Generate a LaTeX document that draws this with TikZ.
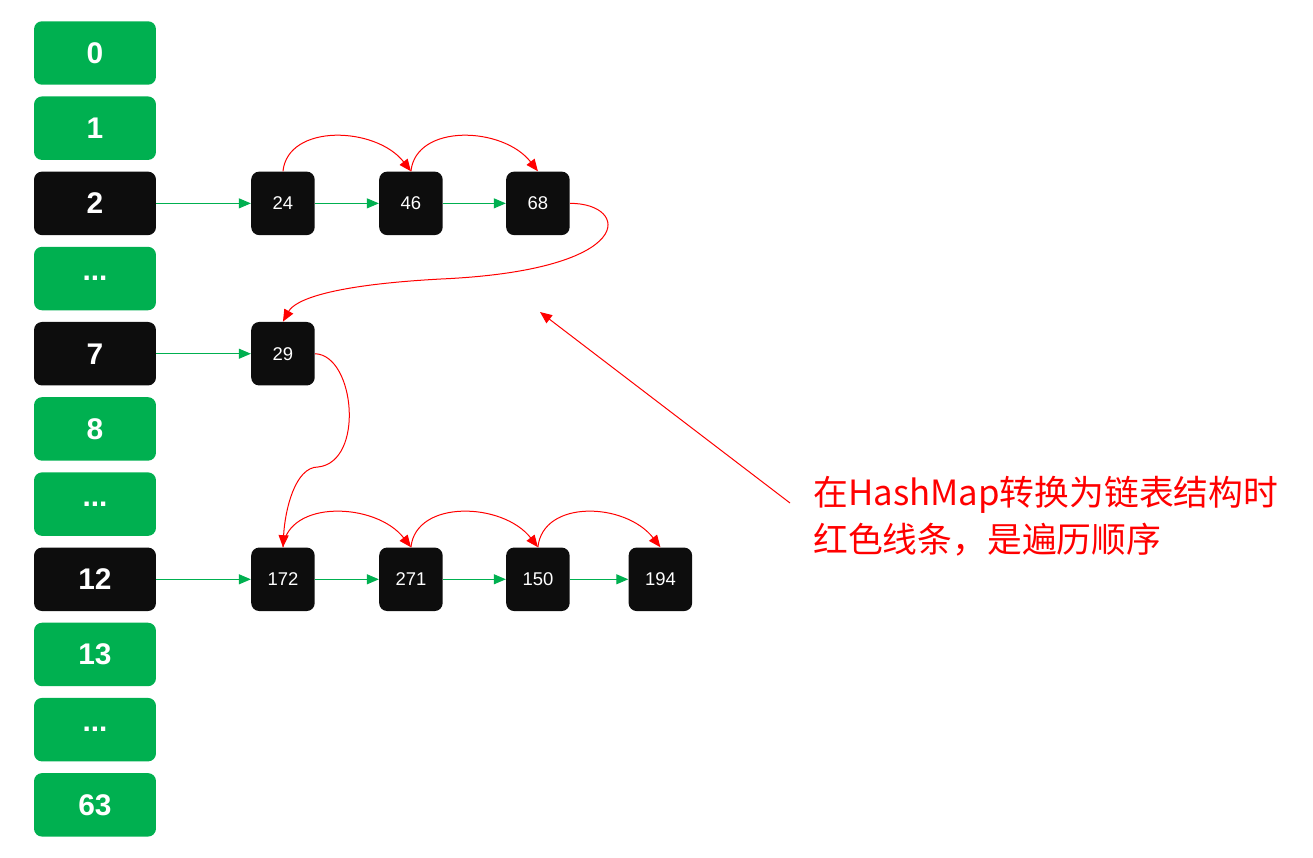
\documentclass[tikz,border=0pt]{standalone}
\usepackage{fontspec}
\setmainfont{Liberation Sans}
\newfontfamily\cjkfont{Noto Sans CJK SC}
\usetikzlibrary{arrows.meta}
\definecolor{bucketgreen}{HTML}{00B050}
\definecolor{nodeblack}{HTML}{0D0D0D}
\tikzstyle{bucket} = [rectangle, rounded corners=0.16cm, minimum width=2.44cm, minimum height=1.27cm, fill=bucketgreen, text=white, font=\fontsize{17}{17}\selectfont\bfseries]
\tikzstyle{hot} = [bucket, fill=nodeblack]
\tikzstyle{entry} = [rectangle, rounded corners=0.16cm, minimum size=1.27cm, fill=nodeblack, text=white, font=\fontsize{10.5}{10.5}\selectfont]
\tikzstyle{link} = [line width=0.02cm, draw=bucketgreen, -{Triangle[length=0.24cm,width=0.2cm]}]
\tikzstyle{trav} = [line width=0.02cm, draw=red, -{Triangle[length=0.24cm,width=0.2cm]}]

\begin{document}
\begin{tikzpicture}[x=0.02cm, y=-0.02cm, node distance=1.504cm]
\useasboundingbox (0,0) rectangle (1313,858);
                \node (b0) [bucket] at (95,53) {0};
                \node (b1) [bucket, below of=b0] {1};
                \node (b2) [hot, below of=b1] {2};
                \node (b3) [bucket, below of=b2] {...};
                \node (b7) [hot, below of=b3] {7};
                \node (b8) [bucket, below of=b7] {8};
                \node (b9) [bucket, below of=b8] {...};
                \node (b12) [hot, below of=b9] {12};
                \node (b13) [bucket, below of=b12] {13};
                \node (b14) [bucket, below of=b13] {...};
                \node (b63) [bucket, below of=b14] {63};

                \node (n24) [entry, node distance=3.76cm, right of=b2] {24};
                \node (n46) [entry, node distance=2.56cm, right of=n24] {46};
                \node (n68) [entry, node distance=2.54cm, right of=n46] {68};
                \node (n29) [entry, node distance=3.76cm, right of=b7] {29};
                \node (n172) [entry, node distance=3.76cm, right of=b12] {172};
                \node (n271) [entry, node distance=2.56cm, right of=n172] {271};
                \node (n150) [entry, node distance=2.54cm, right of=n271] {150};
                \node (n194) [entry, node distance=2.45cm, right of=n150] {194};

                \node (note) [anchor=west, text=red, align=left, inner sep=0pt, font=\cjkfont\fontsize{19.8}{26.6}\selectfont] at (813,516) {在HashMap转换为链表结构时\\红色线条，是遍历顺序};
                \coordinate (bend1) at (441,279);
                \coordinate (bend2) at (318,467);
                \coordinate (gap) at (540,312);

                \draw [link] (b2) -- (n24);
                \draw [link] (n24) -- (n46);
                \draw [link] (n46) -- (n68);
                \draw [link] (b7) -- (n29);
                \draw [link] (b12) -- (n172);
                \draw [link] (n172) -- (n271);
                \draw [link] (n271) -- (n150);
                \draw [link] (n150) -- (n194);

                \draw [trav] (n24.north) .. controls +(5,-48) and +(-35,-45) .. (n46.north);
                \draw [trav] (n46.north) .. controls +(5,-48) and +(-35,-45) .. (n68.north);
                \draw [trav] (n68.east) .. controls (630,203) and (640,270) .. (bend1) .. controls (330,285) and (295,300) .. (n29.north);
                \draw [trav] (n29.east) .. controls (355,355) and (365,462) .. (bend2) .. controls (295,467) and (285,510) .. (n172.north);
                \draw [trav] (n172.north) .. controls +(5,-48) and +(-35,-45) .. (n271.north);
                \draw [trav] (n271.north) .. controls +(5,-48) and +(-35,-45) .. (n150.north);
                \draw [trav] (n150.north) .. controls +(5,-48) and +(-35,-45) .. (n194.north);
                \draw [trav] ([shift={(-23,-13)}]note.west) -- (gap);
\end{tikzpicture}
\end{document}
